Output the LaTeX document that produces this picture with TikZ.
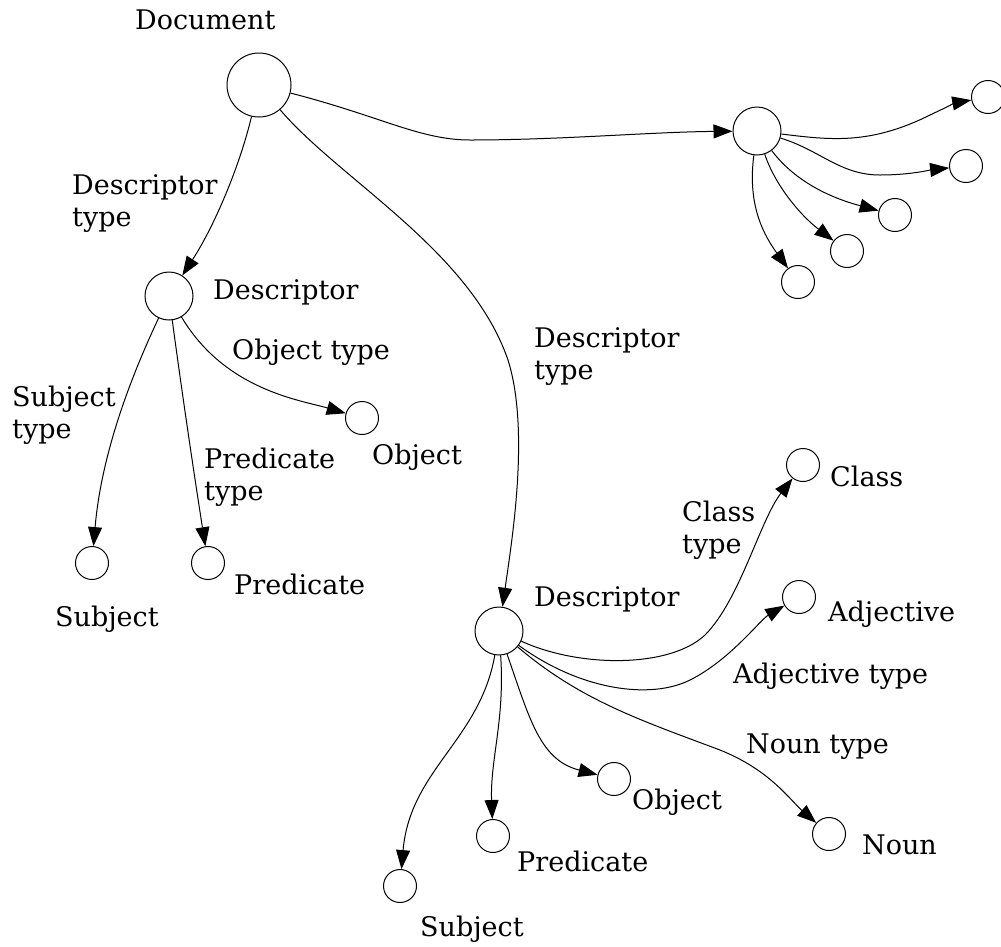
\documentclass[tikz,border=0pt]{standalone}
\usepackage{fontspec}
\setmainfont{DejaVu Serif}
\usetikzlibrary{arrows.meta}
\begin{document}
\begin{tikzpicture}[x=1pt,y=-1pt,
  big/.style={circle,draw,line width=1pt,minimum size=64pt,inner sep=0pt},
  mid/.style={circle,draw,line width=1pt,minimum size=48pt,inner sep=0pt},
  sml/.style={circle,draw,line width=1pt,minimum size=33pt,inner sep=0pt},
  lbl/.style={anchor=base west,inner sep=0pt,font=\fontsize{27}{31.5}\selectfont,align=left},
  edge/.style={draw,line width=1pt,-{Triangle[length=19pt,width=14pt]}}]
\useasboundingbox (0,0) rectangle (1001,946);
% nodes
\node[big] (doc) at (259,85) {};
\node[mid] (hub) at (757,131) {};
\node[sml] (h1) at (988,97) {};
\node[sml] (h2) at (966,166) {};
\node[sml] (h3) at (895,215) {};
\node[sml] (h4) at (847,251) {};
\node[sml] (h5) at (798,282) {};
\node[mid] (d1) at (169,296) {};
\node[sml] (o1) at (362,418) {};
\node[sml] (s1) at (92,563) {};
\node[sml] (p1) at (208,563) {};
\node[mid] (d2) at (499,631) {};
\node[sml] (cls) at (803,465) {};
\node[sml] (adj) at (799,597) {};
\node[sml] (o2) at (614,779) {};
\node[sml] (noun) at (829,834) {};
\node[sml] (p2) at (493,836) {};
\node[sml] (s2) at (400,886) {};
% labels
\node[lbl] (tdoc) at (135,29) {Document};
\node[lbl] (tdt1) at (72,226) {Descriptor\\type};
\node[lbl] (td1) at (213,299) {Descriptor};
\node[lbl] (tot1) at (232,359) {Object type};
\node[lbl] (tst1) at (12,438) {Subject\\type};
\node[lbl] (tpt1) at (204,500) {Predicate\\type};
\node[lbl] (to1) at (372,464) {Object};
\node[lbl] (tp1) at (234,594) {Predicate};
\node[lbl] (ts1) at (55,626) {Subject};
\node[lbl] (tdt2) at (534,379) {Descriptor\\type};
\node[lbl] (tcls) at (830,486) {Class};
\node[lbl] (tct) at (682,553) {Class\\type};
\node[lbl] (td2) at (534,606) {Descriptor};
\node[lbl] (tadj) at (828,621) {Adjective};
\node[lbl] (tat) at (733,683) {Adjective type};
\node[lbl] (tnt) at (746,753) {Noun type};
\node[lbl] (to2) at (632,809) {Object};
\node[lbl] (tnoun) at (862,854) {Noun};
\node[lbl] (tp2) at (517,871) {Predicate};
\node[lbl] (ts2) at (420,936) {Subject};
% edges
\path[edge] (doc) .. controls (240,165) and (215,225) .. (d1);
\path[edge] (doc) .. controls (340,180) and (470,250) .. (508,360) .. controls (530,430) and (512,540) .. (d2);
\path[edge] (doc) .. controls (380,116) and (420,140) .. (470,140) .. controls (560,140) and (650,132) .. (hub);
\path[edge] (hub) .. controls (830,140) and (870,145) .. (930,115) .. controls (945,108) and (955,103) .. (h1);
\path[edge] (hub) .. controls (820,150) and (840,175) .. (880,175) .. controls (910,175) and (930,170) .. (h2);
\path[edge] (hub) .. controls (790,175) and (820,195) .. (h3);
\path[edge] (hub) .. controls (775,185) and (800,215) .. (h4);
\path[edge] (hub) .. controls (748,200) and (760,230) .. (h5);
\path[edge] (d1) .. controls (120,400) and (100,470) .. (s1);
\path[edge] (d1) .. controls (183,400) and (195,480) .. (p1);
\path[edge] (d1) .. controls (225,390) and (300,400) .. (o1);
\path[edge] (d2) .. controls (480,740) and (410,770) .. (s2);
\path[edge] (d2) .. controls (505,720) and (490,760) .. (p2);
\path[edge] (d2) .. controls (530,720) and (540,760) .. (o2);
\path[edge] (d2) .. controls (580,700) and (640,720) .. (720,750) .. controls (770,770) and (790,800) .. (noun);
\path[edge] (d2) .. controls (580,668) and (670,668) .. (705,635) .. controls (740,600) and (760,520) .. (cls);
\path[edge] (d2) .. controls (580,690) and (650,700) .. (690,680) .. controls (730,660) and (760,620) .. (adj);
\end{tikzpicture}
\end{document}
